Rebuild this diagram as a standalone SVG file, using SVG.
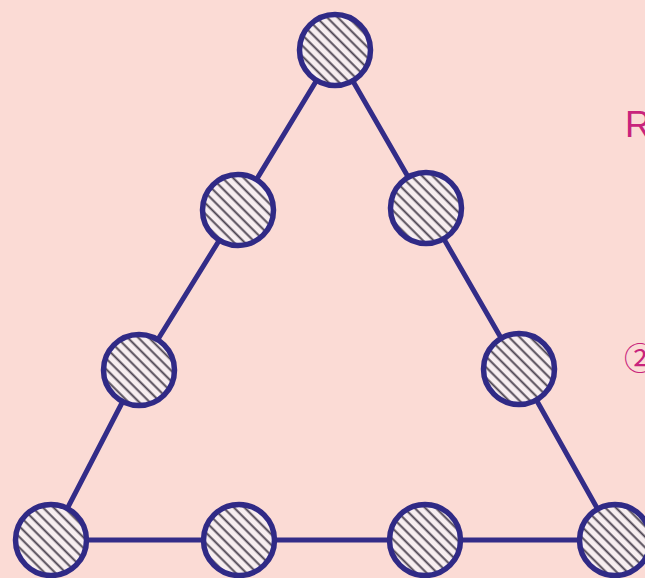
<svg xmlns="http://www.w3.org/2000/svg" width="645" height="578" viewBox="0 0 645 578">
<style>
.node{fill:url(#hatch);stroke:#302a86;stroke-width:5.5}
.edge{fill:none;stroke:#332c88;stroke-width:5;stroke-linejoin:round}
.lbl{font-family:"Liberation Sans","DejaVu Sans",sans-serif;fill:#c8237c}
</style>
<defs>
<pattern id="hatch" patternUnits="userSpaceOnUse" width="7.5" height="7.5" patternTransform="rotate(-45)">
<rect width="7.5" height="7.5" fill="#f7eef0"/>
<line x1="1.5" y1="0" x2="1.5" y2="7.5" stroke="#4b4350" stroke-width="1.9"/>
</pattern>
</defs>
<rect width="645" height="578" fill="#fbdbd5"/>
<g id="connectors">
<path class="edge" d="M335,50 L238,210 L139,370 L51,540 L239,540 L425,540 L615,540 L519,369 L426,208 Z"/>
</g>
<g id="n1"><circle class="node" cx="335" cy="50" r="35.5"/></g>
<g id="n2"><circle class="node" cx="238" cy="210" r="35.5"/></g>
<g id="n3"><circle class="node" cx="426" cy="208" r="35.5"/></g>
<g id="n4"><circle class="node" cx="139" cy="370" r="35.5"/></g>
<g id="n5"><circle class="node" cx="519" cy="369" r="35.5"/></g>
<g id="n6"><circle class="node" cx="51" cy="540" r="35.5"/></g>
<g id="n7"><circle class="node" cx="239" cy="540" r="35.5"/></g>
<g id="n8"><circle class="node" cx="425" cy="540" r="35.5"/></g>
<g id="n9"><circle class="node" cx="615" cy="540" r="35.5"/></g>
<text class="lbl" x="625" y="137" font-size="36">R</text>
<text class="lbl" x="624" y="370" font-size="32" style="font-family:'Noto Sans CJK JP','DejaVu Sans',sans-serif">②</text>
</svg>
